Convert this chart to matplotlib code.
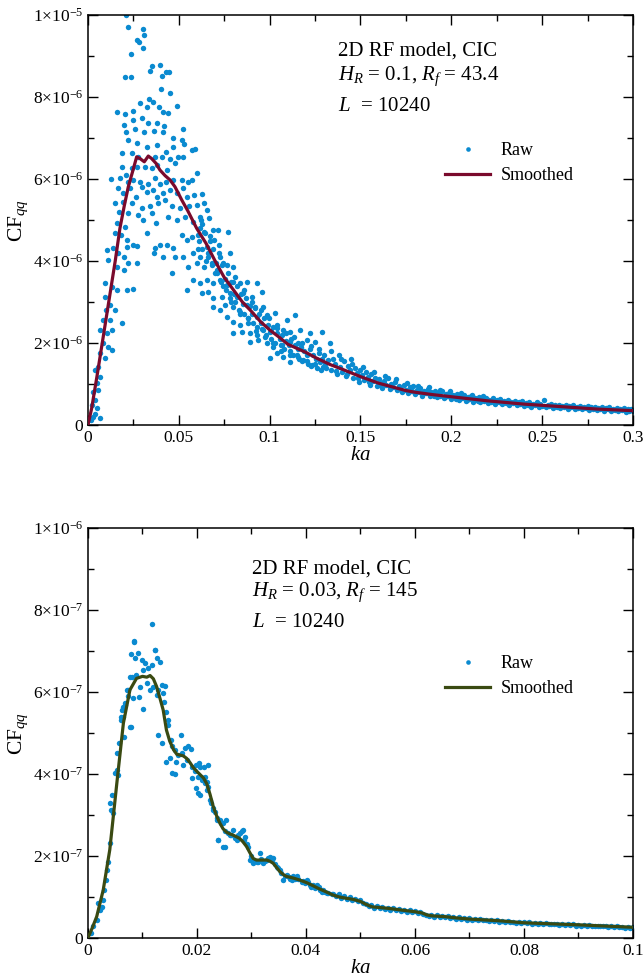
import numpy as np
import matplotlib
matplotlib.use("Agg")
import matplotlib.pyplot as plt
from matplotlib.ticker import MultipleLocator, FuncFormatter

# --- data ---
# top panel: H_R = 0.1 (CF in units of 1e-6)
ka_raw_top = [
    0.0209, 0.0222, 0.0305, 0.0308, 0.0268, 0.0283, 0.0301, 0.0235, 0.0202, 0.0239,
    0.0351, 0.0341, 0.0398, 0.0407, 0.0429, 0.0448, 0.0402, 0.0451, 0.0338, 0.0360,
    0.0286, 0.0492, 0.0162, 0.0204, 0.0246, 0.0323, 0.0393, 0.0415, 0.0442, 0.0198,
    0.0250, 0.0296, 0.0332, 0.0378, 0.0418, 0.0209, 0.0259, 0.0308, 0.0363, 0.0411,
    0.0521, 0.0466, 0.0516, 0.0528, 0.0218, 0.0272, 0.0323, 0.0378, 0.0428, 0.0469,
    0.0573, 0.0591, 0.0189, 0.0240, 0.0277, 0.0369, 0.0406, 0.0451, 0.0497, 0.0525,
    0.0479, 0.0189, 0.0240, 0.0272, 0.0314, 0.0351, 0.0378, 0.0433, 0.0598, 0.0127,
    0.0176, 0.0209, 0.0222, 0.0249, 0.0286, 0.0332, 0.0369, 0.0396, 0.0428, 0.0469,
    0.0516, 0.0552, 0.0571, 0.0167, 0.0191, 0.0231, 0.0262, 0.0296, 0.0323, 0.0360,
    0.0378, 0.0415, 0.0451, 0.0488, 0.0521, 0.0543, 0.0584, 0.0626, 0.0149, 0.0194,
    0.0240, 0.0296, 0.0341, 0.0387, 0.0424, 0.0461, 0.0507, 0.0558, 0.0598, 0.0639,
    0.0653, 0.0172, 0.0222, 0.0277, 0.0305, 0.0351, 0.0374, 0.0442, 0.0488, 0.0534,
    0.0576, 0.0617, 0.0668, 0.0158, 0.0204, 0.0149, 0.0180, 0.0213, 0.0249, 0.0213,
    0.0268, 0.0323, 0.0369, 0.0396, 0.0433, 0.0469, 0.0516, 0.0543, 0.0571, 0.0607,
    0.0644, 0.0690, 0.0717, 0.0772, 0.0694, 0.0139, 0.0106, 0.0167, 0.0198, 0.0222,
    0.0272, 0.0363, 0.0411, 0.0479, 0.0525, 0.0576, 0.0617, 0.0662, 0.0727, 0.0782,
    0.0112, 0.0158, 0.0198, 0.0461, 0.0552, 0.0598, 0.0639, 0.0681, 0.0708, 0.0745,
    0.0800, 0.0095, 0.0130, 0.0162, 0.0213, 0.0246, 0.0543, 0.0580, 0.0617, 0.0653,
    0.0690, 0.0727, 0.0763, 0.0800, 0.0837, 0.0877, 0.0928, 0.0626, 0.0662, 0.0690,
    0.0736, 0.0782, 0.0818, 0.0855, 0.0901, 0.0956, 0.0094, 0.0121, 0.0149, 0.0099,
    0.0690, 0.0727, 0.0754, 0.0800, 0.0837, 0.0873, 0.0919, 0.0965, 0.0763, 0.0800,
    0.0837, 0.0882, 0.0928, 0.0983, 0.1029, 0.1094, 0.1140, 0.0084, 0.0121, 0.0066,
    0.0103, 0.0130, 0.0185, 0.0800, 0.0846, 0.0892, 0.0928, 0.0965, 0.1002, 0.1039,
    0.1075, 0.1112, 0.1167, 0.1222, 0.1286, 0.0892, 0.0937, 0.0983, 0.1020, 0.1066,
    0.1112, 0.1158, 0.1204, 0.1250, 0.0084, 0.0112, 0.0130, 0.0066, 0.0094, 0.1002,
    0.1039, 0.1075, 0.1112, 0.1149, 0.1185, 0.1231, 0.1277, 0.0057, 0.0039, 0.0066,
    0.0048, 0.0029, 0.0057, 0.0039, 0.0020, 0.0048, 0.0029, 0.0066, 0.0015, 0.0039,
    # band 0.06 - 0.13
    0.061, 0.062, 0.063, 0.064, 0.066, 0.067, 0.068, 0.069, 0.071, 0.072,
    0.073, 0.074, 0.076, 0.077, 0.078, 0.079, 0.081, 0.082, 0.083, 0.084,
    0.086, 0.087, 0.088, 0.089, 0.091, 0.092, 0.093, 0.094, 0.096, 0.097,
    0.098, 0.099, 0.101, 0.102, 0.103, 0.104, 0.106, 0.107, 0.108, 0.109,
    0.111, 0.112, 0.113, 0.114, 0.116, 0.117, 0.118, 0.119, 0.121, 0.122,
    0.123, 0.124, 0.126, 0.127, 0.128, 0.129,
    0.0615, 0.0655, 0.0705, 0.0755, 0.0805, 0.0855, 0.0905, 0.0955, 0.1005, 0.1055,
    0.1105, 0.1155, 0.1205, 0.1255,
    0.0605, 0.0628, 0.0651, 0.0674, 0.0697, 0.0720, 0.0743, 0.0766, 0.0789, 0.0812,
    0.0835, 0.0858, 0.0881, 0.0904, 0.0927, 0.0950, 0.0973, 0.0996, 0.1019, 0.1042,
    0.1065, 0.1088, 0.1111, 0.1134, 0.1157, 0.1180, 0.1203, 0.1226, 0.1249, 0.1272,
    0.1295,
    # tail 0.13 - 0.30
    0.130, 0.131, 0.132, 0.133, 0.134, 0.135, 0.136, 0.137, 0.138, 0.139,
    0.140, 0.141, 0.142, 0.143, 0.144, 0.145, 0.146, 0.147, 0.148, 0.149,
    0.150, 0.151, 0.152, 0.153, 0.154, 0.155, 0.156, 0.157, 0.158, 0.159,
    0.160, 0.161, 0.162, 0.163, 0.164, 0.165, 0.166, 0.167, 0.168, 0.169,
    0.170, 0.171, 0.172, 0.173, 0.174, 0.175, 0.176, 0.177, 0.178, 0.179,
    0.180, 0.181, 0.182, 0.183, 0.184, 0.185, 0.186, 0.187, 0.188, 0.189,
    0.190, 0.191, 0.192, 0.193, 0.194, 0.195, 0.196, 0.197, 0.198, 0.199,
    0.200, 0.201, 0.202, 0.203, 0.204, 0.205, 0.206, 0.207, 0.208, 0.209,
    0.210, 0.211, 0.212, 0.213, 0.214, 0.215, 0.216, 0.217, 0.218, 0.219,
    0.220, 0.221, 0.222, 0.223, 0.224, 0.225, 0.226, 0.227, 0.228, 0.229,
    0.230, 0.231, 0.232, 0.233, 0.234, 0.235, 0.236, 0.237, 0.238, 0.239,
    0.240, 0.241, 0.242, 0.243, 0.244, 0.245, 0.246, 0.247, 0.248, 0.249,
    0.250, 0.251, 0.252, 0.253, 0.254, 0.255, 0.256, 0.257, 0.258, 0.259,
    0.260, 0.261, 0.262, 0.263, 0.264, 0.265, 0.266, 0.267, 0.268, 0.269,
    0.270, 0.271, 0.272, 0.273, 0.274, 0.275, 0.276, 0.277, 0.278, 0.279,
    0.280, 0.281, 0.282, 0.283, 0.284, 0.285, 0.286, 0.287, 0.288, 0.289,
    0.290, 0.291, 0.292, 0.293, 0.294, 0.295, 0.296, 0.297, 0.298, 0.299,
    0.300,
    0.1305, 0.1335, 0.1365, 0.1395, 0.1425, 0.1455, 0.1485, 0.1515, 0.1545, 0.1575,
    0.1605, 0.1635, 0.1665, 0.1695, 0.1725, 0.1755, 0.1785, 0.1815, 0.1845, 0.1875,
    0.1905, 0.1935, 0.1965, 0.1995, 0.2025, 0.2055, 0.2085, 0.2115, 0.2145, 0.2175,
]
cf_raw_top = [
    10.0, 9.70, 9.67, 9.50, 9.40, 9.33, 9.20, 9.05, 8.48, 8.48,
    8.76, 8.64, 8.77, 8.50, 8.60, 8.62, 8.19, 8.10, 7.95, 7.89,
    7.85, 7.77, 7.64, 7.58, 7.67, 7.75, 7.76, 7.64, 7.60, 7.32,
    7.45, 7.48, 7.36, 7.37, 7.29, 7.15, 7.23, 7.15, 7.18, 7.15,
    7.23, 6.99, 6.95, 6.85, 6.95, 6.87, 6.79, 6.83, 6.67, 6.79,
    6.70, 6.72, 6.63, 6.64, 6.54, 6.54, 6.54, 6.50, 6.54, 6.54,
    6.38, 6.30, 6.26, 6.30, 6.30, 6.26, 6.34, 6.22, 6.14, 5.99,
    6.02, 6.10, 5.93, 5.98, 5.93, 5.89, 6.02, 5.89, 5.93, 5.98,
    5.98, 5.93, 5.98, 5.77, 5.67, 5.77, 5.57, 5.81, 5.69, 5.73,
    5.57, 5.65, 5.73, 5.65, 5.77, 5.57, 5.61, 5.63, 5.41, 5.45,
    5.41, 5.29, 5.33, 5.41, 5.49, 5.33, 5.29, 5.33, 5.37, 5.41,
    5.24, 5.20, 5.16, 5.12, 5.00, 5.16, 4.93, 5.08, 5.00, 5.08,
    4.96, 5.08, 5.04, 4.92, 4.84, 4.68, 4.63, 4.51, 4.39, 4.35,
    4.37, 4.68, 4.31, 4.39, 4.39, 4.31, 4.63, 4.51, 4.59, 4.63,
    4.68, 4.76, 4.76, 4.71, 4.51, 4.31, 4.27, 4.19, 4.10, 3.94,
    3.94, 4.19, 4.09, 4.10, 4.10, 4.19, 4.10, 4.19, 4.10, 4.19,
    4.02, 3.86, 3.78, 3.70, 3.86, 3.94, 3.86, 3.94, 3.78, 3.94,
    3.86, 3.46, 3.37, 3.29, 3.29, 3.31, 3.29, 3.54, 3.46, 3.54,
    3.46, 3.54, 3.41, 3.50, 3.46, 3.50, 3.46, 3.21, 3.25, 3.09,
    3.13, 3.21, 3.13, 3.21, 3.13, 3.25, 3.13, 2.93, 2.80, 2.80,
    2.89, 2.80, 2.93, 2.89, 2.76, 2.93, 2.89, 2.89, 2.64, 2.52,
    2.44, 2.60, 2.64, 2.68, 2.72, 2.56, 2.68, 2.56, 2.56, 2.32,
    2.24, 2.32, 2.48, 2.24, 2.28, 2.24, 2.20, 2.32, 2.28, 2.36,
    2.32, 2.28, 2.32, 2.24, 2.28, 2.03, 2.07, 1.99, 1.91, 1.95,
    2.03, 1.99, 2.07, 2.03, 1.99, 1.91, 1.83, 1.75, 1.63, 1.63,
    1.75, 1.67, 1.54, 1.71, 1.59, 1.46, 1.54, 1.42, 1.34, 1.18,
    1.02, 0.81, 0.85, 0.61, 0.49, 0.41, 0.20, 0.16, 0.12, 0.28,
    # band 0.06 - 0.13
    4.50, 5.00, 4.30, 4.70, 4.10, 4.60, 3.90, 4.30, 3.70, 4.20,
    3.50, 3.90, 3.30, 3.70, 3.10, 3.50, 3.00, 3.40, 2.80, 3.20,
    2.70, 3.10, 2.60, 2.90, 2.50, 2.85, 2.40, 2.70, 2.35, 2.60,
    2.20, 2.45, 2.10, 2.40, 2.00, 2.25, 1.95, 2.20, 1.85, 2.05,
    1.80, 2.10, 1.70, 1.95, 1.60, 1.90, 1.55, 1.80, 1.50, 1.85,
    1.45, 1.70, 1.40, 1.75, 1.35, 1.60,
    4.80, 4.35, 3.95, 3.55, 3.20, 2.95, 2.70, 2.50, 2.30, 2.10,
    1.95, 1.85, 1.70, 1.60,
    4.30, 4.90, 4.00, 4.50, 3.70, 4.40, 3.40, 3.90, 3.00, 3.60,
    2.70, 3.30, 2.50, 3.00, 2.30, 2.80, 2.15, 2.60, 2.00, 2.45,
    1.80, 2.25, 1.72, 2.15, 1.65, 2.00, 1.55, 1.92, 1.50, 1.85,
    1.42,
    # tail 0.13 - 0.30
    1.72, 1.40, 1.58, 2.00, 1.35, 1.62, 1.48, 1.25, 1.70, 1.42,
    1.30, 1.55, 1.20, 1.45, 1.35, 1.62, 1.15, 1.40, 1.28, 1.05,
    1.35, 1.22, 1.10, 1.30, 1.18, 0.98, 1.25, 1.08, 1.15, 0.95,
    1.12, 1.02, 0.90, 1.08, 0.97, 1.14, 0.88, 1.00, 0.93, 1.06,
    0.85, 0.96, 0.90, 0.80, 0.98, 0.86, 0.78, 0.92, 0.84, 0.95,
    0.76, 0.86, 0.80, 0.90, 0.72, 0.83, 0.77, 0.88, 0.70, 0.80,
    0.74, 0.84, 0.68, 0.78, 0.72, 0.82, 0.66, 0.75, 0.70, 0.79,
    0.63, 0.73, 0.68, 0.76, 0.61, 0.70, 0.65, 0.74, 0.59, 0.68,
    0.63, 0.71, 0.57, 0.66, 0.61, 0.69, 0.55, 0.64, 0.59, 0.67,
    0.54, 0.62, 0.57, 0.65, 0.52, 0.60, 0.56, 0.63, 0.51, 0.58,
    0.54, 0.61, 0.49, 0.57, 0.53, 0.59, 0.48, 0.55, 0.51, 0.58,
    0.46, 0.54, 0.50, 0.56, 0.45, 0.52, 0.49, 0.55, 0.44, 0.51,
    0.47, 0.60, 0.43, 0.50, 0.46, 0.52, 0.42, 0.48, 0.45, 0.50,
    0.41, 0.47, 0.44, 0.49, 0.40, 0.46, 0.43, 0.48, 0.39, 0.45,
    0.42, 0.47, 0.38, 0.44, 0.41, 0.46, 0.37, 0.43, 0.40, 0.45,
    0.36, 0.42, 0.39, 0.44, 0.35, 0.41, 0.38, 0.43, 0.34, 0.40,
    0.37, 0.42, 0.33, 0.39, 0.36, 0.41, 0.32, 0.38, 0.35, 0.40,
    0.33,
    1.50, 1.80, 1.32, 1.60, 1.25, 1.50, 1.15, 1.42, 1.05, 1.30,
    0.98, 1.20, 0.92, 1.12, 0.86, 1.02, 0.82, 0.96, 0.77, 0.92,
    0.72, 0.86, 0.68, 0.82, 0.64, 0.77, 0.61, 0.73, 0.58, 0.70,
]
ka_smooth_top = [0, 0.002, 0.005, 0.0075, 0.010, 0.0125, 0.015, 0.0176, 0.020, 0.0222,
                 0.025, 0.0268, 0.0286, 0.031, 0.0332, 0.035, 0.0375, 0.0396, 0.0425, 0.0451,
                 0.0479, 0.0516, 0.055, 0.0598, 0.065, 0.070, 0.075, 0.080, 0.085, 0.090,
                 0.095, 0.100, 0.105, 0.110, 0.115, 0.120, 0.125, 0.133, 0.140, 0.150,
                 0.160, 0.170, 0.175, 0.180, 0.190, 0.200, 0.210, 0.220, 0.230, 0.240,
                 0.250, 0.260, 0.270, 0.280, 0.290, 0.300]
cf_smooth_top = [0, 0.40, 1.20, 1.90, 2.60, 3.30, 4.00, 4.80, 5.35, 5.81,
                 6.25, 6.54, 6.50, 6.42, 6.56, 6.50, 6.38, 6.22, 6.08, 5.98,
                 5.81, 5.49, 5.22, 4.80, 4.43, 4.00, 3.60, 3.30, 3.00, 2.77,
                 2.52, 2.32, 2.15, 1.97, 1.87, 1.77, 1.65, 1.48, 1.36, 1.18,
                 1.02, 0.90, 0.84, 0.80, 0.74, 0.69, 0.64, 0.59, 0.55, 0.51,
                 0.48, 0.45, 0.42, 0.39, 0.37, 0.35]

# bottom panel: H_R = 0.03 (CF in units of 1e-7)
ka_raw_bot = [
    0.0085, 0.0079, 0.0092, 0.0086, 0.0099, 0.0105, 0.0123, 0.0126, 0.0132, 0.0117,
    0.0111, 0.0101, 0.0118, 0.0084, 0.0123, 0.0077, 0.0089, 0.0108, 0.0095, 0.0114,
    0.0120, 0.0129, 0.0135, 0.0141, 0.0073, 0.0083, 0.0094, 0.0101, 0.0126, 0.0138,
    0.0140, 0.0144, 0.0146, 0.0147, 0.0062, 0.0068, 0.0065, 0.0061, 0.0079, 0.0067,
    0.0129, 0.0135, 0.0152, 0.0155, 0.0160, 0.0171, 0.0166, 0.0172, 0.0178, 0.0184,
    0.0189, 0.0144, 0.0150, 0.0161, 0.0181, 0.0175, 0.0154, 0.0160, 0.0190, 0.0199,
    0.0206, 0.0212, 0.0221, 0.0190, 0.0196, 0.0202, 0.0209, 0.0215, 0.0199, 0.0202,
    0.0206, 0.0218, 0.0221, 0.0224, 0.0226, 0.0230, 0.0233, 0.0236, 0.0239, 0.0242,
    0.0245, 0.0248, 0.0203, 0.0208, 0.0214, 0.0219,
    0.0230, 0.0236, 0.0239, 0.0248, 0.0254, 0.0251, 0.0260, 0.0267, 0.0273, 0.0279,
    0.0285, 0.0288, 0.0294, 0.0297, 0.0303, 0.0310, 0.0316, 0.0322, 0.0328, 0.0334,
    0.0340, 0.0346, 0.0352, 0.0358, 0.0365, 0.0374, 0.0383, 0.0392, 0.0401, 0.0410,
    0.0420, 0.0429, 0.0438,
    0.0252, 0.0257, 0.0263, 0.0270, 0.0276, 0.0282, 0.0287, 0.0291, 0.0299,
    0.0305, 0.0312, 0.0318, 0.0325, 0.0331, 0.0337, 0.0343, 0.0349, 0.0355, 0.0361,
    0.0368, 0.0371, 0.0377, 0.0380, 0.0386, 0.0395, 0.0398, 0.0404, 0.0407, 0.0413,
    0.0416, 0.0423, 0.0426, 0.0432, 0.0435, 0.0441, 0.0447,
    # rising part
    0.0005, 0.0010, 0.0016, 0.0019, 0.0022, 0.0025, 0.0028, 0.0029, 0.0033, 0.0035,
    0.0037, 0.0040, 0.0043, 0.0040, 0.0046, 0.0045, 0.0050, 0.0054, 0.0056, 0.0053,
    0.0057, 0.0060, 0.0064, 0.0068, 0.0071, 0.0074, 0.0078, 0.0080,
    # tail 0.045 - 0.10
    0.0450, 0.0455, 0.0460, 0.0465, 0.0470, 0.0475, 0.0480, 0.0485, 0.0490, 0.0495,
    0.0500, 0.0505, 0.0510, 0.0515, 0.0520, 0.0525, 0.0530, 0.0535, 0.0540, 0.0545,
    0.0550, 0.0555, 0.0560, 0.0565, 0.0570, 0.0575, 0.0580, 0.0585, 0.0590, 0.0595,
    0.0600, 0.0605, 0.0610, 0.0615, 0.0620, 0.0625, 0.0630, 0.0635, 0.0640, 0.0645,
    0.0650, 0.0655, 0.0660, 0.0665, 0.0670, 0.0675, 0.0680, 0.0685, 0.0690, 0.0695,
    0.0700, 0.0705, 0.0710, 0.0715, 0.0720, 0.0725, 0.0730, 0.0735, 0.0740, 0.0745,
    0.0750, 0.0755, 0.0760, 0.0765, 0.0770, 0.0775, 0.0780, 0.0785, 0.0790, 0.0795,
    0.0800, 0.0805, 0.0810, 0.0815, 0.0820, 0.0825, 0.0830, 0.0835, 0.0840, 0.0845,
    0.0850, 0.0855, 0.0860, 0.0865, 0.0870, 0.0875, 0.0880, 0.0885, 0.0890, 0.0895,
    0.0900, 0.0905, 0.0910, 0.0915, 0.0920, 0.0925, 0.0930, 0.0935, 0.0940, 0.0945,
    0.0950, 0.0955, 0.0960, 0.0965, 0.0970, 0.0975, 0.0980, 0.0985, 0.0990, 0.0995,
    0.1000,
]
cf_raw_bot = [
    7.23, 6.93, 6.94, 6.82, 6.78, 6.71, 7.02, 6.82, 6.74, 6.66,
    6.58, 6.54, 7.65, 7.24, 7.02, 6.37, 6.41, 6.21, 6.13, 6.05,
    6.13, 6.05, 6.17, 6.15, 6.05, 5.85, 5.87, 5.58, 5.93, 5.97,
    5.76, 5.52, 5.32, 5.20, 5.56, 5.68, 5.40, 5.32, 5.15, 4.91,
    4.95, 4.75, 4.83, 4.67, 4.59, 4.95, 4.46, 4.50, 4.63, 4.67,
    4.60, 4.30, 4.38, 4.30, 4.34, 4.22, 4.03, 4.00, 4.18, 4.22,
    4.18, 4.16, 4.22, 3.90, 4.06, 3.93, 3.85, 3.93, 3.65, 3.53,
    3.49, 3.81, 3.69, 3.37, 3.29, 3.16, 3.08, 2.92, 2.39, 2.88,
    2.80, 2.23, 4.26, 3.93, 3.78, 3.61,
    3.12, 2.88, 2.39, 2.80, 2.88, 2.23, 2.51, 2.63, 2.39, 2.55,
    2.63, 2.47, 2.23, 1.90, 1.82, 1.86, 2.07, 1.82, 1.90, 1.98,
    1.94, 1.74, 1.66, 1.41, 1.54, 1.41, 1.50, 1.37, 1.41, 1.25,
    1.29, 1.13, 1.09,
    2.60, 2.55, 2.50, 2.45, 2.50, 2.60, 2.40, 2.30, 2.00,
    1.90, 1.85, 1.92, 1.88, 1.95, 1.90, 1.80, 1.70, 1.58, 1.52,
    1.48, 1.45, 1.50, 1.43, 1.45, 1.40, 1.35, 1.36, 1.30, 1.28,
    1.22, 1.24, 1.18, 1.16, 1.12, 1.10, 1.06,
    # rising part
    0.11, 0.28, 0.44, 0.85, 0.68, 0.76, 0.93, 1.17, 1.41, 1.66,
    1.86, 2.31, 3.12, 3.29, 3.04, 3.49, 4.02, 4.10, 3.98, 4.50,
    4.75, 5.40, 5.64, 5.72, 6.05, 5.89, 5.15, 6.37,
    # tail 0.045 - 0.10
    1.08, 1.02, 1.06, 0.98, 1.02, 0.95, 0.99, 0.93, 0.96, 0.90,
    0.93, 0.86, 0.84, 0.78, 0.80, 0.74, 0.78, 0.72, 0.76, 0.71,
    0.74, 0.69, 0.72, 0.67, 0.70, 0.65, 0.69, 0.64, 0.67, 0.63,
    0.66, 0.61, 0.64, 0.58, 0.57, 0.53, 0.56, 0.51, 0.55, 0.51,
    0.54, 0.50, 0.53, 0.49, 0.51, 0.47, 0.50, 0.46, 0.49, 0.45,
    0.48, 0.44, 0.47, 0.43, 0.46, 0.43, 0.45, 0.42, 0.44, 0.41,
    0.43, 0.40, 0.42, 0.39, 0.41, 0.38, 0.40, 0.37, 0.39, 0.36,
    0.39, 0.36, 0.38, 0.35, 0.37, 0.35, 0.36, 0.34, 0.36, 0.33,
    0.35, 0.33, 0.34, 0.32, 0.34, 0.31, 0.33, 0.31, 0.33, 0.30,
    0.32, 0.30, 0.31, 0.29, 0.31, 0.29, 0.30, 0.28, 0.30, 0.28,
    0.29, 0.27, 0.29, 0.26, 0.28, 0.26, 0.27, 0.25, 0.27, 0.25,
    0.26,
]
ka_smooth_bot = [0, 0.0008, 0.0016, 0.0028, 0.0040, 0.0053, 0.0065, 0.0077, 0.0089, 0.0100,
                 0.0108, 0.0114, 0.0120, 0.0126, 0.0132, 0.0138, 0.0144, 0.0150, 0.0157, 0.0163,
                 0.0169, 0.0175, 0.0181, 0.0187, 0.0193, 0.0200, 0.0206, 0.0212, 0.0218, 0.0224,
                 0.0230, 0.0236, 0.0242, 0.0248, 0.0254, 0.0260, 0.0266, 0.0272, 0.0278, 0.0284,
                 0.0291, 0.0297, 0.0303, 0.0309, 0.0315, 0.0322, 0.0328, 0.0334, 0.0340, 0.0346,
                 0.0352, 0.0358, 0.0364, 0.0371, 0.0377, 0.0389, 0.0401, 0.0412, 0.0424, 0.0436,
                 0.0449, 0.0461, 0.0473, 0.0487, 0.0500, 0.0510, 0.0521, 0.0537, 0.0552, 0.0575,
                 0.0600, 0.0613, 0.0622, 0.0631, 0.0655, 0.0675, 0.0700, 0.0754, 0.0800, 0.0850,
                 0.0900, 0.0950, 0.1000]
cf_smooth_bot = [0, 0.25, 0.52, 1.17, 2.15, 3.78, 5.24, 6.05, 6.33, 6.38,
                 6.36, 6.40, 6.32, 6.13, 5.85, 5.56, 5.07, 4.80, 4.59, 4.48,
                 4.46, 4.44, 4.38, 4.28, 4.16, 4.06, 3.98, 3.90, 3.76, 3.50,
                 3.20, 2.98, 2.80, 2.66, 2.58, 2.54, 2.51, 2.47, 2.43, 2.35,
                 2.23, 2.08, 1.94, 1.90, 1.90, 1.90, 1.90, 1.87, 1.82, 1.72,
                 1.62, 1.55, 1.50, 1.48, 1.46, 1.41, 1.35, 1.28, 1.20, 1.13,
                 1.05, 1.00, 0.97, 0.94, 0.89, 0.82, 0.76, 0.74, 0.72, 0.68,
                 0.64, 0.61, 0.56, 0.54, 0.52, 0.49, 0.46, 0.42, 0.37, 0.345,
                 0.32, 0.29, 0.26]

text_top = ['2D RF model, CIC', r'$H_R$ = 0.1, $R_f$ = 43.4', r'$L$  = 10240']
text_bot = ['2D RF model, CIC', r'$H_R$ = 0.03, $R_f$ = 145', r'$L$  = 10240']

# --- style ---
plt.rcParams['font.family'] = ['Liberation Serif', 'DejaVu Serif']
plt.rcParams['mathtext.fontset'] = 'custom'
plt.rcParams['mathtext.rm'] = 'Liberation Serif'
plt.rcParams['mathtext.it'] = 'Liberation Serif:italic'
plt.rcParams['font.size'] = 12

RAW_COLOR = '#0A8AD0'


def sci_label(v, pos):
    if v <= 0:
        return '0' if abs(v) < 1e-15 else ''
    e = int(np.floor(np.log10(v) + 1e-9))
    m = int(round(v / 10 ** e))
    return rf'${m}{{\times}}10^{{{e}}}$'


def plain_label(v, pos):
    return '%g' % round(v, 6)


def draw_panel(ax, ka_raw, cf_raw, ka_s, cf_s, scale, line_color, xmax, ymax,
               xmajor, xminor, ymajor, yminor, lines, tx, ty):
    ax.plot(np.array(ka_raw), np.array(cf_raw) * scale, 'o', ms=3.9, color=RAW_COLOR,
            mec='none', label='Raw', zorder=2)
    ax.plot(np.array(ka_s), np.array(cf_s) * scale, '-', lw=2.3, color=line_color,
            label='Smoothed', zorder=3)
    ax.set_xlim(0, xmax)
    ax.set_ylim(0, ymax)
    ax.xaxis.set_major_locator(MultipleLocator(xmajor))
    ax.xaxis.set_minor_locator(MultipleLocator(xminor))
    ax.yaxis.set_major_locator(MultipleLocator(ymajor))
    ax.yaxis.set_minor_locator(MultipleLocator(yminor))
    ax.xaxis.set_major_formatter(FuncFormatter(plain_label))
    ax.yaxis.set_major_formatter(FuncFormatter(sci_label))
    ax.tick_params(which='both', direction='in', top=True, right=True, labelsize=12.5)
    ax.tick_params(which='major', length=7, width=1)
    ax.tick_params(which='minor', length=4, width=1)
    for s in ax.spines.values():
        s.set_linewidth(1.1)
    ax.set_xlabel(r'$ka$', fontsize=15, labelpad=0)
    ax.set_ylabel(r'CF$_{qq}$', fontsize=15.5, labelpad=2)
    for i, t in enumerate(lines):
        ax.text(tx, ty[i], t, transform=ax.transAxes, fontsize=15, va='center', ha='left')
    ax.legend(loc='upper left', bbox_to_anchor=(0.655, 0.69), frameon=False,
              fontsize=13, handlelength=2.5, handletextpad=0.6, labelspacing=0.45,
              borderpad=0, borderaxespad=0, markerscale=0.85)


fig = plt.figure(figsize=(6.44, 9.8), dpi=100)
ax1 = fig.add_axes([0.1366, 0.5663, 0.8463, 0.4184])
ax2 = fig.add_axes([0.1366, 0.0429, 0.8463, 0.4184])

draw_panel(ax1, ka_raw_top, cf_raw_top, ka_smooth_top, cf_smooth_top, 1e-6, '#7A0A2C',
           0.3, 1e-5, 0.05, 0.025, 2e-6, 1e-6, text_top, 0.459, [0.913, 0.850, 0.778])
draw_panel(ax2, ka_raw_bot, cf_raw_bot, ka_smooth_bot, cf_smooth_bot, 1e-7, '#3A4A12',
           0.1, 1e-6, 0.02, 0.01, 2e-7, 1e-7, text_bot, 0.301, [0.900, 0.842, 0.769])

fig.savefig('out.png', dpi=100)
